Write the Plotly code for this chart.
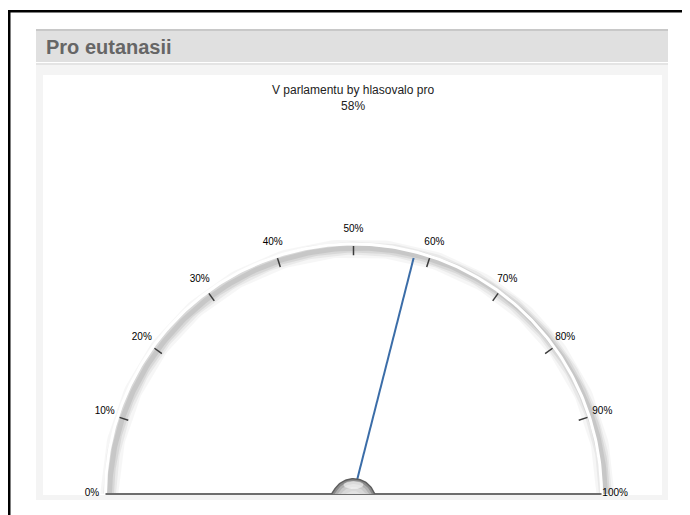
import numpy as np
import plotly.graph_objects as go

# ---------------- data ----------------
panel_title = "Pro eutanasii"
chart_title = "V parlamentu by hlasovalo pro"
value = 58                       # percent
tick_values = [0, 10, 20, 30, 40, 50, 60, 70, 80, 90, 100]
tick_labels = ["0%", "10%", "20%", "30%", "40%", "50%", "60%", "70%", "80%", "90%", "100%"]
axis_min, axis_max = 0, 100

# ---------------- geometry / style ----------------
OFF = 8                      # default body margin of the page
W, H = 690 - OFF, 515 - OFF  # figure size so the page is filled exactly
CX, CY = 353.5, 494          # gauge centre in page pixels
RX, RY = 248.0, 250.0        # pixels per unit radius

def ang(p):
    return np.pi * (1 - (np.asarray(p, dtype=float) - axis_min) / (axis_max - axis_min))

def px(x):
    return (x - OFF) / W

def py(y):
    return 1 - (y - OFF) / H

fig = go.Figure()

# drop shadow of the scale arc
off_x, off_y = 4 / RX, -4 / RY
t0 = np.arcsin(-off_y)
th = np.linspace(t0, np.pi - t0, 240)
for w, a in [(18, 0.035), (13, 0.05), (9, 0.07), (5, 0.08)]:
    fig.add_trace(go.Scatter(x=np.cos(th) + off_x, y=np.sin(th) + off_y, mode="lines",
                             line=dict(color=f"rgba(0,0,0,{a})", width=w),
                             hoverinfo="skip", showlegend=False))

# white scale arc
th = ang(np.linspace(axis_min, axis_max, 241))
fig.add_trace(go.Scatter(x=np.cos(th), y=np.sin(th), mode="lines",
                         line=dict(color="#ffffff", width=3),
                         hoverinfo="skip", showlegend=False))

# ticks
tx, ty = [], []
for v in tick_values:
    a = ang(v)
    tx += [0.992 * np.cos(a), 0.955 * np.cos(a), None]
    ty += [0.992 * np.sin(a), 0.955 * np.sin(a), None]
fig.add_trace(go.Scatter(x=tx, y=ty, mode="lines", line=dict(color="#3a3a3a", width=1.5),
                         hoverinfo="skip", showlegend=False))

# tick labels
la = ang(tick_values)
fig.add_trace(go.Scatter(x=1.055 * np.cos(la), y=1.055 * np.sin(la) + 0.004, mode="text",
                         text=tick_labels, textposition="middle center",
                         textfont=dict(family="Liberation Sans, Arial", size=10, color="#000000"),
                         hoverinfo="skip", showlegend=False))

# baseline
fig.add_trace(go.Scatter(x=[np.cos(ang(axis_min)), np.cos(ang(axis_max))], y=[0, 0], mode="lines",
                         line=dict(color="#6e6e6e", width=2), hoverinfo="skip", showlegend=False))

# needle
na = ang(value)
fig.add_trace(go.Scatter(x=[0, 0.975 * np.cos(na)], y=[0, 0.975 * np.sin(na)], mode="lines",
                         line=dict(color="#3b6da8", width=2), hoverinfo="skip", showlegend=False))

# hub (sphere, clipped at baseline)
hub_cy = -7 / RY
phi = np.linspace(0, 2 * np.pi, 120)
for r, col in [(23, "#5e5e5e"), (21.5, "#8a8a8a"), (19.5, "#b0b0b0"), (17, "#c8c8c8"), (14, "#d8d8d8"), (10, "#e2e2e2")]:
    hx = r / RX * np.cos(phi)
    hy = np.maximum(r / RY * np.sin(phi) + hub_cy, 0)
    fig.add_trace(go.Scatter(x=hx, y=hy, mode="lines", fill="toself", fillcolor=col,
                             line=dict(width=0, color=col), hoverinfo="skip", showlegend=False))
# highlight
hx = 10 / RX * np.cos(phi)
hy = np.maximum(4 / RY * np.sin(phi) + 9 / RY, 0)
fig.add_trace(go.Scatter(x=hx, y=hy, mode="lines", fill="toself", fillcolor="rgba(255,255,255,0.55)",
                         line=dict(width=0, color="white"), hoverinfo="skip", showlegend=False))

# ---------------- page decoration ----------------
shapes = [
    dict(type="rect", x0=px(8), x1=1, y0=py(12.5), y1=py(10), fillcolor="#000000", line_width=0),
    dict(type="rect", x0=px(8), x1=px(10.5), y0=0, y1=py(10), fillcolor="#000000", line_width=0),
    dict(type="rect", x0=px(36), x1=px(668), y0=py(62), y1=py(29), fillcolor="#e0e0e0", line_width=0),
    dict(type="rect", x0=px(36), x1=px(668), y0=py(31), y1=py(29), fillcolor="#c8c8c8", line_width=0),
    dict(type="rect", x0=px(36), x1=px(668), y0=py(65), y1=py(63), fillcolor="#e4e4e4", line_width=0),
    dict(type="rect", x0=px(36), x1=px(668), y0=py(500), y1=py(65), fillcolor="#f4f4f4", line_width=0),
    dict(type="rect", x0=px(43), x1=px(662), y0=py(495), y1=py(75), fillcolor="#ffffff", line_width=0),
]
for s in shapes:
    s.update(xref="paper", yref="paper", layer="below")

annotations = [
    dict(text=f"<b>{panel_title}</b>", x=px(44), y=py(47.5), xref="paper", yref="paper",
         xanchor="left", yanchor="middle", showarrow=False,
         font=dict(family="Liberation Sans, Arial", size=20, color="#666666")),
    dict(text=f"{chart_title}<br>{value}%", x=px(352.5), y=py(81), xref="paper", yref="paper",
         xanchor="center", yanchor="top", showarrow=False, align="center",
         font=dict(family="Liberation Sans, Arial", size=12, color="#222222")),
]

fig.update_layout(
    width=W, height=H, margin=dict(l=0, r=0, t=0, b=0),
    paper_bgcolor="#ffffff", plot_bgcolor="rgba(0,0,0,0)",
    shapes=shapes, annotations=annotations, showlegend=False,
    xaxis=dict(range=[(OFF - CX) / RX, (OFF + W - CX) / RX], visible=False, fixedrange=True),
    yaxis=dict(range=[(CY - OFF - H) / RY, (CY - OFF) / RY], visible=False, fixedrange=True),
)

fig.write_html("out.html")
